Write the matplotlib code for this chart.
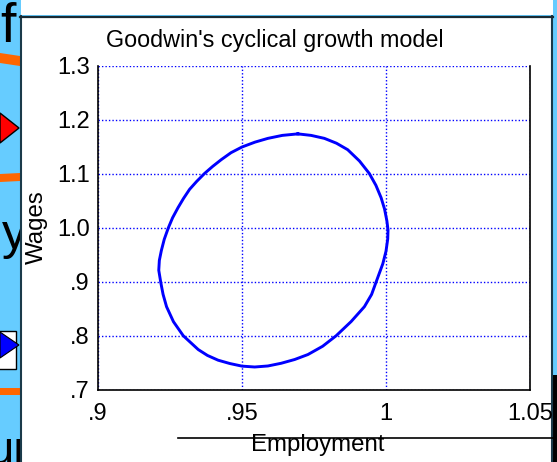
import matplotlib
matplotlib.use("Agg")
import matplotlib.pyplot as plt
from matplotlib.patches import Rectangle, Polygon

plt.rcParams['font.family'] = ['Liberation Sans', 'DejaVu Sans']

# ---- data (closed Goodwin cycle) ----
employment = [0.9694, 0.9640, 0.9590, 0.9545, 0.9500, 0.9462, 0.9428, 0.9398,
              0.9370, 0.9343, 0.9318, 0.9297, 0.9278, 0.9259, 0.9244, 0.9230,
              0.9220, 0.9213, 0.9211, 0.9218, 0.9226, 0.9238, 0.9262, 0.9296,
              0.9348, 0.9380, 0.9417, 0.9458, 0.9500, 0.9544, 0.9590, 0.9636,
              0.9683, 0.9729, 0.9780, 0.9827, 0.9879, 0.9925, 0.9950, 0.9965,
              0.9989, 1.0000, 1.0006, 1.0007, 1.0003, 0.9995, 0.9983, 0.9965,
              0.9942, 0.9908, 0.9867, 0.9828, 0.9786, 0.9740, 0.9694]
wages = [1.1743, 1.1715, 1.1660, 1.1590, 1.1500, 1.1395, 1.1266, 1.1140,
         1.1010, 1.0865, 1.0716, 1.0548, 1.0378, 1.0190, 1.0000, 0.9790,
         0.9583, 0.9400, 0.9217, 0.8990, 0.8770, 0.8543, 0.8265, 0.8005,
         0.7749, 0.7640, 0.7552, 0.7490, 0.7442, 0.7426, 0.7445, 0.7495,
         0.7565, 0.7657, 0.7810, 0.8005, 0.8268, 0.8543, 0.8770, 0.8990,
         0.9339, 0.9570, 0.9798, 0.9965, 1.0134, 1.0350, 1.0561, 1.0790,
         1.1010, 1.1240, 1.1450, 1.1570, 1.1660, 1.1715, 1.1743]

x_ticks = [0.90, 0.95, 1.00, 1.05]
x_ticklabels = ['.9', '.95', '1', '1.05']
y_ticks = [0.7, 0.8, 0.9, 1.0, 1.1, 1.2, 1.3]
y_ticklabels = ['.7', '.8', '.9', '1.0', '1.1', '1.2', '1.3']

title = "Goodwin's cyclical growth model"
xlabel = "Employment"
ylabel = "Wages"

W, H = 557, 462
fig = plt.figure(figsize=(W / 100, H / 100), dpi=100)
fig.patch.set_facecolor('white')

# ---- background (slide behind the chart window), pixel coordinates ----
bg = fig.add_axes([0, 0, 1, 1], zorder=0)
bg.set_xlim(0, W)
bg.set_ylim(H, 0)
bg.axis('off')
lb = '#66CCFF'
org = '#FF6600'
strip = Rectangle((0, 0), 20.5, H, color=lb, lw=0, zorder=0.1)
bg.add_patch(strip)
bg.add_patch(Rectangle((552.5, 0), 5, H, color=lb, lw=0, zorder=0.1))
bg.add_patch(Rectangle((20, 14.5), 533, 2, color=lb, lw=0, zorder=0.1))
bg.add_patch(Polygon([(0, 53), (20, 56), (20, 66), (0, 63)], closed=True, color=org, lw=0, zorder=0.15))
bg.add_patch(Polygon([(0, 174), (20, 173), (20, 181), (0, 182)], closed=True, color=org, lw=0, zorder=0.15))
bg.add_patch(Rectangle((0, 388), 20, 7, color=org, lw=0, zorder=0.15))
for s, x, y, fs in [('f', 0, 28, 40), ('y', 2, 236, 36), ('ur', -12, 452, 34)]:
    t = bg.text(x, y, s, fontsize=fs, ha='left', va='center', color='black', zorder=0.2)
    t.set_clip_path(strip)
bg.text(300, -9, 'Time (Years)', fontsize=15, ha='center', va='center', color='black', zorder=0.2)
# chart window
bg.add_patch(Rectangle((21.5, 18), 530, H - 18, color='white', lw=0, zorder=0.5))
bg.add_patch(Rectangle((553, 375), 4, 87, color='black', lw=0, zorder=0.6))
bg.add_patch(Polygon([(0, 113), (19, 128), (0, 143)], closed=True, facecolor='red', edgecolor='black', lw=1, zorder=0.7))
bg.add_patch(Rectangle((-2, 331), 18, 38, facecolor='white', edgecolor='black', lw=1, zorder=0.7))
bg.add_patch(Polygon([(0, 332), (19, 345), (0, 358)], closed=True, facecolor='blue', edgecolor='black', lw=0.8, zorder=0.8))
bg.plot([20.5, 20.5], [16, H], color='#1a3a4a', lw=1.5, zorder=0.9)
bg.plot([552, 552], [16, H], color='#1a3a4a', lw=1.5, zorder=0.9)
bg.plot([20, 553], [17, 17], color='#1a2a33', lw=1.6, zorder=0.9)
bg.plot([178, 557], [438, 438], color='black', lw=1.2, zorder=0.9)

# ---- main chart ----
ax = fig.add_axes([98 / W, (H - 390) / H, (530 - 98) / W, (390 - 66) / H], zorder=2)
ax.patch.set_alpha(0)
ax.plot(employment, wages, color='#0000FF', lw=2.1, zorder=3)
ax.set_xlim(0.9, 1.05)
ax.set_ylim(0.7, 1.3)
ax.set_xticks(x_ticks)
ax.set_xticklabels(x_ticklabels)
ax.set_yticks(y_ticks)
ax.set_yticklabels(y_ticklabels)
ax.tick_params(length=0, labelsize=17, colors='black', pad=6)
ax.tick_params(axis='x', pad=9)
ax.grid(True, color='#0000FF', linestyle=(0, (1, 1.5)), linewidth=1.0)
for s in ('left', 'bottom', 'right'):
    ax.spines[s].set_color('black')
    ax.spines[s].set_linewidth(1.2)
ax.spines['top'].set_visible(False)

fig.text(275 / W, 1 - 41 / H, title, fontsize=16.8, ha='center', va='center')
fig.text(318 / W, 1 - 445 / H, xlabel, fontsize=17.3, ha='center', va='center', zorder=3)
fig.text(37 / W, 1 - 227 / H, ylabel, fontsize=17.3, ha='center', va='center', rotation=90)

fig.savefig('out.png', dpi=100)
